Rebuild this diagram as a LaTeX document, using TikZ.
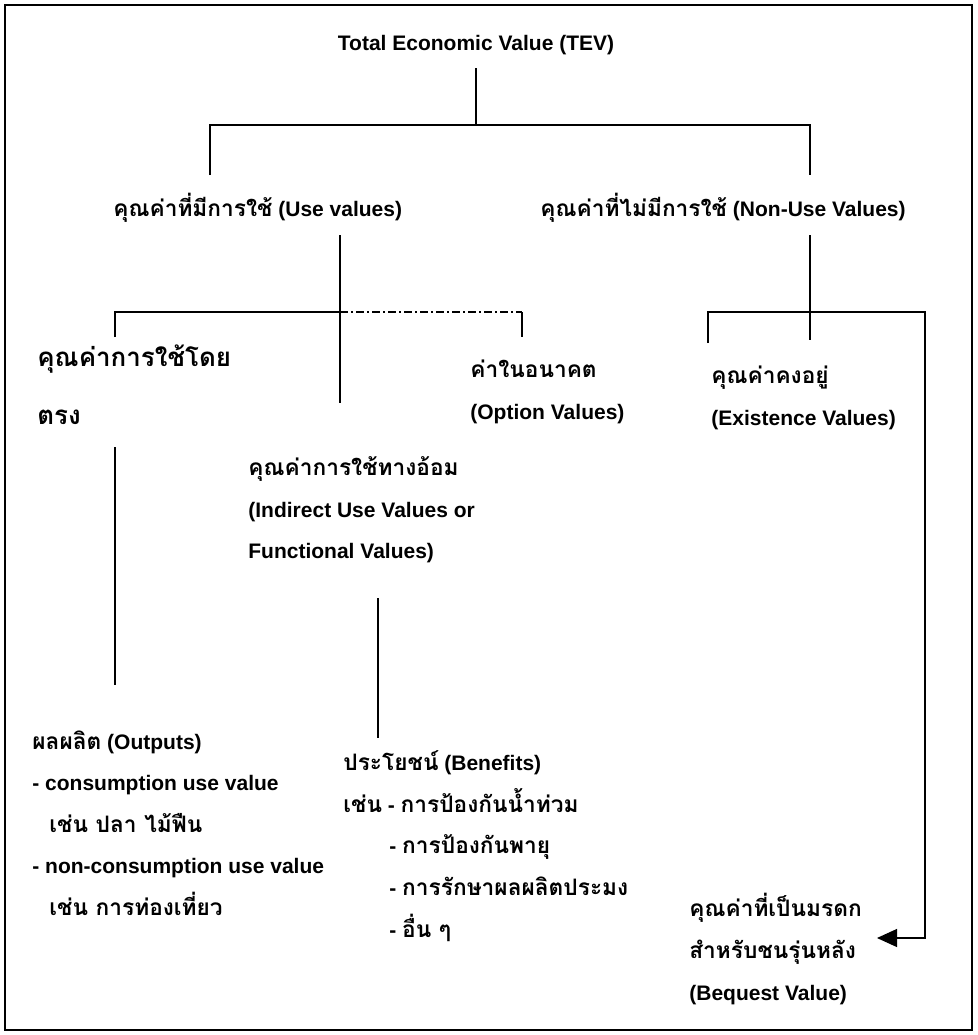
\documentclass[tikz,border=0pt]{standalone}
\usepackage{fontspec}
\setmainfont{Liberation Sans}
\newfontfamily\thai[Script=Thai, Scale=1.08]{Loma}
\usetikzlibrary{arrows.meta, positioning}

\tikzset{
  lbl/.style={anchor=west, inner sep=0pt, align=left,
              font=\bfseries\fontsize{10.5}{20.8}\selectfont},
  biglbl/.style={lbl, font=\bfseries\fontsize{12}{29}\selectfont},
  link/.style={line width=0.6pt},
  optlink/.style={link, dash pattern=on 4pt off 1.5pt on 1pt off 1.5pt},
  frame/.style={line width=0.8pt}
}

\begin{document}
\begin{tikzpicture}[x=0.5pt, y=-0.5pt]
  \useasboundingbox (0,0) rectangle (978,1035);
  \draw[frame] (5,5) rectangle (972,1030);

  % labels
  \node[lbl, anchor=center] (tev) at (476,45) {Total Economic Value (TEV)};
  \node[lbl] (use) at (113,208) {{\thai คุณค่าที่มีการใช้} (Use values)};
  \node[lbl] (nonuse) at (540,208) {{\thai คุณค่าที่ไม่มีการใช้} (Non-Use Values)};
  \node[biglbl] (direct) at (37,385) {{\thai คุณค่าการใช้โดย}\\{\thai ตรง}};
  \node[lbl] (option) at (470,392) {{\thai ค่าในอนาคต}\\(Option Values)};
  \node[lbl] (exist) at (711,398) {{\thai คุณค่าคงอยู่}\\(Existence Values)};
  \node[lbl] (indirect) at (248,510)
    {{\thai คุณค่าการใช้ทางอ้อม}\\(Indirect Use Values or\\Functional Values)};
  \node[lbl] (outputs) at (32,823)
    {{\thai ผลผลิต} (Outputs)\\- consumption use value\\
     \hspace*{8.5pt}{\thai เช่น ปลา ไม้ฟืน}\\- non-consumption use value\\
     \hspace*{8.5pt}{\thai เช่น การท่องเที่ยว}};
  \node[lbl] (benefits) at (343,846)
    {{\thai ประโยชน์} (Benefits)\\{\thai เช่น} - {\thai การป้องกันน้ำท่วม}\\
     \hspace*{23pt}- {\thai การป้องกันพายุ}\\
     \hspace*{23pt}- {\thai การรักษาผลผลิตประมง}\\
     \hspace*{23pt}- {\thai อื่น ๆ}};
  \node[lbl] (bequest) at (689,949)
    {{\thai คุณค่าที่เป็นมรดก}\\{\thai สำหรับชนรุ่นหลัง}\\(Bequest Value)};

  % line ends
  \coordinate (tevfoot) at (476,68);
  \coordinate (split) at (476,125);
  \coordinate (usehead) at (210,175);
  \coordinate (nonusehead) at (810,175);
  \coordinate (usefoot) at (340,235);
  \coordinate (usestem) at (340,403);
  \coordinate (usesplit) at (340,312);
  \coordinate (directhead) at (115,337);
  \coordinate (optcorner) at (522,312);
  \coordinate (opthead) at (522,337);
  \coordinate (nonusefoot) at (810,235);
  \coordinate (nonusestem) at (810,340);
  \coordinate (nonusesplit) at (810,312);
  \coordinate (existhead) at (708,343);
  \coordinate (bequestturn) at (925,938);
  \coordinate (bequesthead) at (877,938);
  \coordinate (directfoot) at (115,447);
  \coordinate (outputshead) at (115,685);
  \coordinate (indirectfoot) at (378,598);
  \coordinate (benefitshead) at (378,738);

  % tree
  \draw[link] (tevfoot) -- (split);
  \draw[link] (usehead) |- (split) -| (nonusehead);
  \draw[link] (usefoot) -- (usestem);
  \draw[link] (directhead) |- (usesplit);
  \draw[optlink] (usesplit) -- (optcorner);
  \draw[link] (optcorner) -- (opthead);
  \draw[link] (nonusefoot) -- (nonusestem);
  \draw[link, -{Triangle[length=10pt, width=9pt]}]
    (existhead) |- (nonusesplit) -| (bequestturn) -- (bequesthead);
  \draw[link] (directfoot) -- (outputshead);
  \draw[link] (indirectfoot) -- (benefitshead);
\end{tikzpicture}
\end{document}
